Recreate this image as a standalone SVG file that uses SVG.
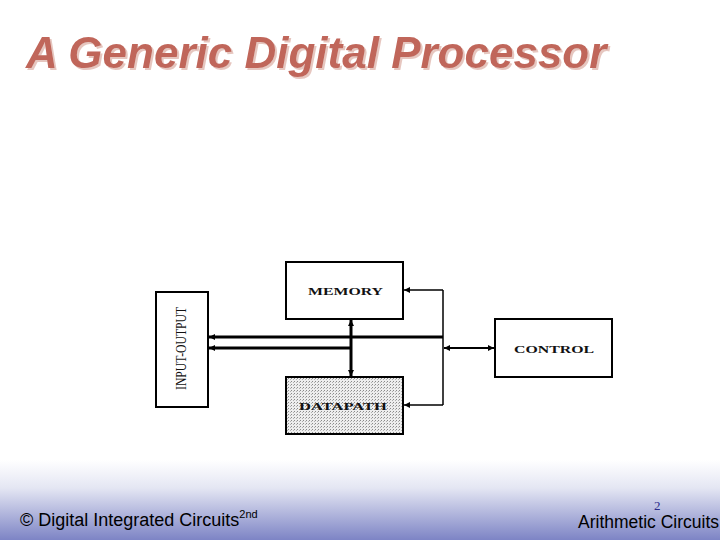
<svg xmlns="http://www.w3.org/2000/svg" width="720" height="540" viewBox="0 0 720 540">
<style>
.box{fill:#fff;stroke:#000;stroke-width:2}
.lbl{font-family:"Liberation Serif","Times New Roman",serif;font-weight:bold;font-size:10px;fill:#111}
.thick{stroke:#000;stroke-width:3;fill:none}
.thin{stroke:#000;stroke-width:1.5;fill:none}
.foot{font-family:"Liberation Sans",Arial,sans-serif;font-size:18px;fill:#000}
.title{font-family:"Liberation Sans",Arial,sans-serif;font-size:44px;font-weight:bold;font-style:italic}
</style>
<defs>
<linearGradient id="footg" x1="0" y1="0" x2="0" y2="1">
<stop offset="0" stop-color="#ffffff"/>
<stop offset="0.35" stop-color="#e4e6f3"/>
<stop offset="1" stop-color="#7d84c5"/>
</linearGradient>
<pattern id="dots" width="3" height="3" patternUnits="userSpaceOnUse">
<rect width="3" height="3" fill="#eeeeee"/>
<rect width="1" height="1" fill="#8a8a8a"/>
<rect x="2" y="1" width="1" height="1" fill="#b0b0b0"/>
</pattern>
<filter id="shadow" x="-5%" y="-20%" width="110%" height="140%">
<feDropShadow dx="2" dy="2" stdDeviation="0.3" flood-color="#e6c6bf" flood-opacity="1"/>
</filter>
<marker id="ah" viewBox="0 0 10 10" refX="10" refY="5" markerWidth="7" markerHeight="6" markerUnits="userSpaceOnUse" orient="auto-start-reverse">
<path d="M0,0 L10,5 L0,10 z" fill="#000"/>
</marker>
</defs>
<rect x="0" y="460" width="720" height="80" fill="url(#footg)"/>
<text class="title" x="26" y="68" fill="#c0665a" filter="url(#shadow)">A Generic Digital Processor</text>
<g id="io">
<rect class="box" x="156" y="292" width="52" height="115"/>
<text transform="translate(186,348.5) rotate(-90)" text-anchor="middle" font-family="'Liberation Serif','Times New Roman',serif" font-size="14" fill="#111" textLength="83" lengthAdjust="spacingAndGlyphs">INPUT-OUTPUT</text>
</g>
<g id="memory">
<rect class="box" x="286" y="262" width="117" height="57"/>
<text class="lbl" x="308" y="295" textLength="75" lengthAdjust="spacingAndGlyphs">MEMORY</text>
</g>
<g id="datapath">
<rect x="286" y="377" width="117" height="57" fill="url(#dots)" stroke="#000" stroke-width="2"/>
<text class="lbl" x="299" y="410" font-size="11" textLength="88" lengthAdjust="spacingAndGlyphs">DATAPATH</text>
</g>
<g id="control">
<rect class="box" x="495" y="319" width="117" height="58"/>
<text class="lbl" x="514" y="353" textLength="80" lengthAdjust="spacingAndGlyphs">CONTROL</text>
</g>
<g id="connectors">
<path class="thick" d="M443,337 H209" marker-end="url(#ah)"/>
<path class="thick" d="M351,348 H209" marker-end="url(#ah)"/>
<path class="thick" d="M351,320 V376" marker-start="url(#ah)" marker-end="url(#ah)"/>
<path class="thin" d="M443,290 V405"/>
<path class="thin" d="M443,290 H404" marker-end="url(#ah)"/>
<path class="thin" d="M443,405 H404" marker-end="url(#ah)"/>
<path stroke="#000" stroke-width="2" fill="none" d="M444,348 H494" marker-start="url(#ah)" marker-end="url(#ah)"/>
</g>
<text class="foot" x="20" y="526">© Digital Integrated Circuits<tspan font-size="11" dy="-8">2nd</tspan></text>
<text x="654" y="510" font-family="'Liberation Serif','Times New Roman',serif" font-size="13" fill="#2a2a8a">2</text>
<text class="foot" x="578" y="528" font-size="17.5" style="font-size:17.5px">Arithmetic Circuits</text>
</svg>
